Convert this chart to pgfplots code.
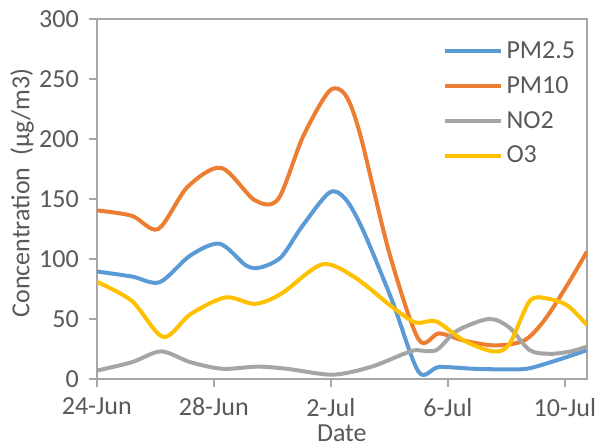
\documentclass[border=0pt]{standalone}
\usepackage{fontspec}
\setmainfont{Carlito}
\usepackage{pgfplots}
\pgfplotsset{compat=1.18}
\definecolor{cblue}{HTML}{5B9BD5}
\definecolor{corange}{HTML}{ED7D31}
\definecolor{cgray}{HTML}{A5A5A5}
\definecolor{cgold}{HTML}{FFC000}
\definecolor{axgray}{HTML}{A6A6A6}
\definecolor{txt}{HTML}{595959}
\begin{document}
\begin{tikzpicture}
\useasboundingbox (-48.4pt,-34.5pt) rectangle (253.6pt,189.5pt);
\begin{axis}[
  at={(0,0)}, anchor=south west,
  scale only axis,
  width=245pt, height=180pt,
  xmin=0, xmax=16.75, ymin=0, ymax=300,
  xtick={0,4,8,12,16},
  xticklabels={24-Jun,28-Jun,2-Jul,6-Jul,10-Jul},
  ytick={0,50,...,300},
  xtick pos=bottom, ytick pos=left,
  tick align=outside,
  major tick length=4pt,
  axis line style={axgray, line width=0.8pt},
  tick style={axgray, line width=0.8pt},
  every tick label/.append style={font=\fontsize{13}{15}\selectfont, text=txt},
  xticklabel style={yshift=-2pt},
  yticklabel style={xshift=-1.5pt},
  /pgf/number format/assume math mode=true,
  xlabel={Date}, ylabel={Concentration\ \ (µg/m3)},
  label style={font=\fontsize{13}{15}\selectfont, text=txt},
  xlabel style={at={(axis description cs:0.5,-0.175)}, anchor=base},
  ylabel style={at={(axis description cs:-0.1527,0.517)}, anchor=center},
  legend style={at={(axis description cs:0.7047,0.95)}, anchor=north west, draw=none, fill=none,
    inner sep=0pt, font=\fontsize{13}{15}\selectfont, text=txt, row sep=3.5pt},
  legend cell align=left,
  legend image code/.code={\draw[#1, line width=2pt] (0pt,0pt) -- (28pt,0pt);},
  every axis plot/.append style={line width=2pt, smooth, tension=0.5},
]
\addplot[cblue] coordinates {
(0,89.6) (1.2,85.4) (2.15,80.7) (3.2,103) (4.2,112.7) (5.1,94.6) (5.6,93) (6.3,101.6) (7.0,126.6) (7.95,155.3) (8.5,150) (9.1,124) (10.1,65) (11.0,6) (11.7,10) (12.9,8.5) (14.1,8) (14.8,9) (15.9,17) (16.75,24)
};
\addlegendentry{PM2.5}
\addplot[corange] coordinates {
(0,140.5) (1.2,136) (2.1,125) (3.1,160) (4.25,176) (5.4,149) (6.2,150) (7.05,202) (7.95,240) (8.5,236.6) (9.0,204) (10.0,105) (11.0,33) (11.7,38) (12.55,32) (13.6,28) (14.6,32) (15.3,49) (16.1,79) (16.75,106)
};
\addlegendentry{PM10}
\addplot[cgray] coordinates {
(0,7) (1.2,14) (2.2,23) (3.2,14) (4.3,8.5) (5.5,10.3) (6.5,8.5) (8.06,3.6) (9.36,10) (10.5,21) (10.9,24) (11.6,24) (12.3,40) (13.4,50) (14.1,43) (14.8,24) (15.5,21) (16.2,23) (16.75,27)
};
\addlegendentry{NO2}
\addplot[cgold] coordinates {
(0,81) (1.2,65) (2.27,35) (3.2,54) (4.4,68) (5.4,62.6) (6.3,71) (7.7,95.5) (8.8,85) (10.1,60) (10.9,47) (11.6,48) (12.55,32) (13.55,23) (14.1,29) (14.8,65) (15.4,67) (16.1,61) (16.75,45)
};
\addlegendentry{O3}
\end{axis}
\end{tikzpicture}
\end{document}
